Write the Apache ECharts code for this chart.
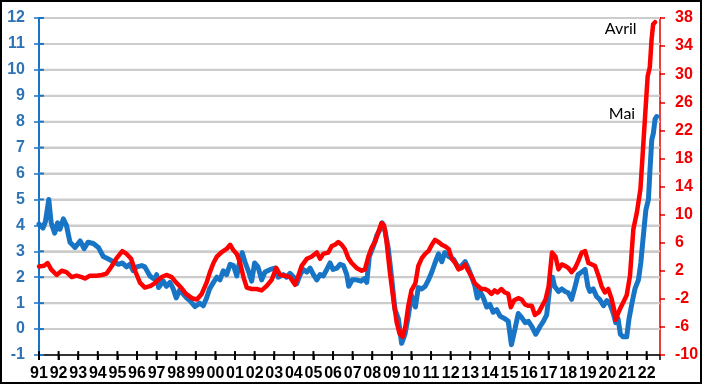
<!DOCTYPE html>
<html>
<head>
<meta charset="utf-8">
<style>html,body{margin:0;padding:0;background:#fff}#c{width:702px;height:384px}</style>
<script src="https://cdn.jsdelivr.net/npm/echarts@6/dist/echarts.min.js"></script>
</head>
<body>
<div id="c"></div>
<script>
// Blue series (left axis), time in fractional years
const blueTime = [1991.00,1991.20,1991.33,1991.50,1991.62,1991.80,1991.95,1992.07,1992.24,1992.40,1992.58,1992.84,1993.10,1993.30,1993.50,1993.77,1994.03,1994.28,1994.54,1994.80,1995.05,1995.25,1995.47,1995.64,1995.81,1995.98,1996.24,1996.40,1996.66,1996.92,1997.00,1997.10,1997.34,1997.50,1997.68,1997.85,1998.00,1998.17,1998.36,1998.53,1998.70,1998.96,1999.20,1999.38,1999.55,1999.70,1999.90,2000.07,2000.23,2000.40,2000.57,2000.75,2000.92,2001.09,2001.26,2001.37,2001.50,2001.70,2001.85,2002.00,2002.17,2002.36,2002.53,2002.80,2003.04,2003.20,2003.46,2003.63,2003.80,2004.00,2004.15,2004.32,2004.48,2004.66,2004.83,2005.00,2005.17,2005.34,2005.50,2005.68,2005.85,2006.00,2006.20,2006.36,2006.53,2006.70,2006.80,2006.98,2007.20,2007.43,2007.60,2007.72,2007.85,2008.06,2008.23,2008.40,2008.51,2008.65,2008.82,2009.00,2009.16,2009.33,2009.50,2009.67,2009.84,2010.00,2010.20,2010.35,2010.53,2010.70,2010.87,2011.04,2011.20,2011.38,2011.55,2011.70,2011.90,2012.14,2012.40,2012.57,2012.74,2012.90,2013.08,2013.24,2013.36,2013.50,2013.67,2013.84,2014.00,2014.17,2014.35,2014.52,2014.77,2014.94,2015.10,2015.28,2015.45,2015.62,2015.80,2015.97,2016.14,2016.34,2016.56,2016.73,2016.90,2017.07,2017.20,2017.30,2017.50,2017.67,2017.84,2018.00,2018.17,2018.35,2018.50,2018.69,2018.86,2019.00,2019.10,2019.27,2019.45,2019.60,2019.80,2019.97,2020.13,2020.30,2020.42,2020.54,2020.66,2020.80,2020.98,2021.10,2021.25,2021.40,2021.58,2021.70,2021.83,2021.96,2022.09,2022.17,2022.26,2022.34,2022.43,2022.51];
const blueValues = [4.05,3.90,4.15,5.00,4.10,3.70,4.10,3.85,4.25,4.00,3.35,3.15,3.40,3.10,3.35,3.30,3.15,2.80,2.70,2.60,2.50,2.55,2.40,2.50,2.25,2.40,2.45,2.40,2.05,1.90,2.10,1.60,1.85,1.65,1.80,1.55,1.20,1.50,1.35,1.20,1.10,0.87,1.00,0.90,1.20,1.55,1.80,2.00,1.90,2.25,2.10,2.50,2.45,2.05,2.70,2.95,2.60,2.20,1.85,2.55,2.40,1.90,2.20,2.30,2.35,2.00,2.10,2.00,2.15,2.00,1.75,2.10,2.30,2.20,2.35,2.10,1.90,2.10,2.05,2.30,2.55,2.30,2.35,2.50,2.45,2.10,1.65,1.90,1.90,1.85,1.95,1.80,2.80,3.20,3.60,3.85,4.10,3.80,3.10,1.90,0.75,0.40,-0.55,-0.20,0.50,1.30,0.85,1.60,1.55,1.65,1.90,2.20,2.55,2.90,2.60,2.95,2.80,2.70,2.35,2.45,2.60,2.35,2.00,1.65,1.20,1.45,1.20,0.85,0.95,0.65,0.75,0.50,0.40,0.30,-0.60,0.00,0.60,0.45,0.25,0.30,0.10,-0.20,0.10,0.30,0.55,1.70,2.00,1.65,1.45,1.55,1.45,1.40,1.15,1.65,2.10,2.20,2.30,1.65,1.45,1.55,1.25,1.15,0.90,1.10,0.95,0.60,0.25,0.40,-0.20,-0.30,-0.30,0.40,1.00,1.55,1.90,2.55,3.60,4.60,5.00,6.15,7.30,7.55,8.10,8.20];

// Red series (right axis)
const redTime = [1991.00,1991.26,1991.44,1991.62,1991.90,1992.16,1992.40,1992.67,1992.92,1993.18,1993.35,1993.60,1993.94,1994.20,1994.45,1994.70,1994.96,1995.25,1995.47,1995.70,1995.90,1996.15,1996.40,1996.66,1996.90,1997.00,1997.26,1997.50,1997.77,1998.00,1998.25,1998.50,1998.80,1999.05,1999.30,1999.55,1999.72,1999.90,2000.07,2000.30,2000.57,2000.75,2000.90,2001.09,2001.26,2001.43,2001.60,2001.85,2002.10,2002.36,2002.60,2002.87,2003.10,2003.30,2003.55,2003.80,2004.06,2004.23,2004.40,2004.66,2004.90,2005.17,2005.34,2005.50,2005.76,2005.93,2006.10,2006.27,2006.44,2006.60,2006.78,2006.95,2007.20,2007.46,2007.63,2007.80,2007.97,2008.14,2008.30,2008.47,2008.60,2008.72,2008.90,2009.08,2009.25,2009.40,2009.55,2009.70,2009.84,2010.00,2010.20,2010.35,2010.53,2010.70,2010.87,2011.04,2011.20,2011.38,2011.55,2011.70,2011.90,2012.06,2012.24,2012.40,2012.57,2012.74,2012.90,2013.08,2013.24,2013.40,2013.56,2013.75,2013.90,2014.08,2014.24,2014.40,2014.58,2014.77,2014.94,2015.07,2015.24,2015.45,2015.62,2015.80,2015.97,2016.14,2016.30,2016.50,2016.67,2016.84,2017.00,2017.17,2017.35,2017.50,2017.67,2017.84,2018.00,2018.17,2018.35,2018.50,2018.69,2018.86,2019.03,2019.20,2019.36,2019.54,2019.70,2019.87,2020.04,2020.20,2020.33,2020.42,2020.55,2020.68,2020.82,2020.98,2021.15,2021.32,2021.50,2021.68,2021.81,2021.94,2022.05,2022.16,2022.25,2022.33,2022.43];
const redValues = [2.6,2.7,3.1,2.2,1.4,2.0,1.8,1.1,1.3,1.1,0.9,1.3,1.3,1.4,1.6,2.6,3.8,4.8,4.4,3.7,2.0,0.3,-0.4,-0.2,0.2,0.5,1.1,1.4,1.1,0.3,-0.4,-1.3,-1.9,-2.1,-1.3,0.3,1.8,3.1,4.0,4.6,5.1,5.7,5.0,4.4,3.1,1.1,-0.4,-0.6,-0.6,-0.8,-0.2,0.7,2.4,1.4,1.3,1.1,0.0,1.3,2.7,3.7,4.0,4.6,3.7,4.4,4.6,5.5,5.7,6.1,5.7,5.1,3.8,3.1,2.4,2.0,2.2,4.0,5.3,6.1,7.4,8.8,8.5,6.4,1.8,-2.1,-5.4,-7.0,-7.4,-5.8,-3.0,-0.8,0.2,2.7,3.8,4.4,4.8,5.7,6.4,6.1,5.7,5.5,5.1,3.7,3.1,2.2,2.4,2.9,2.0,1.1,0.2,-0.2,-0.6,-0.6,-0.8,-1.3,-0.8,-1.1,-0.6,-1.1,-1.3,-3.2,-2.2,-1.9,-2.1,-2.8,-3.0,-3.0,-4.3,-3.9,-3.0,-2.1,-0.2,4.6,4.0,2.2,2.9,2.7,2.4,1.8,2.4,3.3,4.6,4.8,3.1,2.9,2.7,1.3,-0.2,-1.1,-0.6,-1.9,-3.4,-5.0,-4.0,-3.2,-2.4,-1.5,1.3,7.9,10.3,13.6,19.2,24.9,29.7,31.0,34.9,37.1,37.4];

// Tick values
const leftTicks = [-1,0,1,2,3,4,5,6,7,8,9,10,11,12];
const rightTicks = [-10,-6,-2,2,6,10,14,18,22,26,30,34,38];
const yearTicks = [1991,1992,1993,1994,1995,1996,1997,1998,1999,2000,2001,2002,2003,2004,2005,2006,2007,2008,2009,2010,2011,2012,2013,2014,2015,2016,2017,2018,2019,2020,2021,2022];
const xRange = [1991, 2022.68];
const endLabels = ['Avril', 'Mai'];

const BLUE = '#1874C4', BLUE_TXT = '#2E74B5', RED = '#FF0000', RED_AX = '#E00000';
const FONT = 'Liberation Sans, Arial, sans-serif';

const blueData = blueTime.map((t, i) => [t, blueValues[i]]);
const redData = redTime.map((t, i) => [t, redValues[i]]);

// tick half-lengths expressed in axis units (about 5px)
const TX = 0.25, TY = 0.19;

const helper = (data, color, yAxisIndex, width, z) => ({
  type: 'line', data, yAxisIndex, symbol: 'none', silent: true, clip: false, z,
  lineStyle: {color, width, cap: 'butt'}, emphasis: {disabled: true}, tooltip: {show: false}
});

const gridSeries = leftTicks.slice(1).map(v => helper([[xRange[0], v], [xRange[1], v]], '#CCCCCC', 0, 2, 1));
const leftTickSeries = leftTicks.map(v => helper([[xRange[0] - TX, v], [xRange[0] + TX, v]], BLUE, 0, 2, 2));
const xTickSeries = yearTicks.map(t => helper([[t, leftTicks[0] - TY], [t, leftTicks[0] + 0.8 * TY]], '#000', 0, 2, 2));
const rightTickSeries = rightTicks.map(r => helper([[xRange[1], r], [xRange[1] + TX, r]], RED_AX, 1, 2, 2));

const chart = echarts.init(document.getElementById('c'), null, {renderer: 'canvas'});
const yearFmt = v => Math.abs(v - Math.round(v)) < 1e-6 ? String(Math.round(v)).slice(2) : '';

chart.setOption({
  animation: false,
  backgroundColor: '#fff',
  grid: {left: 39, right: 42, top: 18, bottom: 29},
  graphic: [{
    type: 'rect', silent: true, z: 100,
    shape: {x: 1, y: 1, width: 700, height: 382},
    style: {fill: 'none', stroke: '#000', lineWidth: 2}
  }],
  xAxis: {
    type: 'value', position: 'bottom', min: xRange[0], max: xRange[1], interval: 1,
    axisLine: {show: true, onZero: false, lineStyle: {color: '#000', width: 1.5}},
    axisTick: {show: true, length: 5, lineStyle: {color: '#000', width: 1.5}},
    axisLabel: {show: true, margin: 11, color: '#000', fontSize: 16, fontWeight: 'bold', fontFamily: FONT, formatter: yearFmt},
    splitLine: {show: false}
  },
  yAxis: [
    {
      type: 'value', position: 'left', min: leftTicks[0], max: leftTicks[leftTicks.length - 1], interval: 1,
      axisLine: {show: true, onZero: false, lineStyle: {color: BLUE, width: 2}},
      axisTick: {show: true, length: 5, lineStyle: {color: BLUE, width: 1.5}},
      axisLabel: {margin: 14, color: BLUE_TXT, fontSize: 16, fontWeight: 'bold', fontFamily: FONT},
      splitLine: {show: true, lineStyle: {color: '#CCCCCC', width: 2}}
    },
    {
      type: 'value', position: 'right', min: rightTicks[0], max: rightTicks[rightTicks.length - 1], interval: 4,
      axisLine: {show: true, onZero: false, lineStyle: {color: RED_AX, width: 1.5}},
      axisTick: {show: true, length: 5, lineStyle: {color: RED_AX, width: 1.5}},
      axisLabel: {margin: 15, color: '#F00000', fontSize: 16, fontWeight: 'bold', fontFamily: FONT},
      splitLine: {show: false}
    }
  ],
  series: [
    ...gridSeries,
    ...leftTickSeries,
    ...xTickSeries,
    ...rightTickSeries,
    {
      type: 'line', yAxisIndex: 0, data: blueData, symbol: 'none', z: 3,
      lineStyle: {color: BLUE, width: 5, join: 'round', cap: 'round'},
      markPoint: {
        symbol: 'circle', symbolSize: 1, itemStyle: {color: 'rgba(0,0,0,0)'},
        label: {show: true, formatter: endLabels[1], position: 'left', distance: 21, offset: [0, -3], color: '#000', fontSize: 16, fontFamily: 'Lato, sans-serif'},
        data: [{coord: blueData[blueData.length - 1]}]
      }
    },
    {
      type: 'line', yAxisIndex: 1, data: redData, symbol: 'none', z: 4,
      lineStyle: {color: RED, width: 4.5, join: 'round', cap: 'round'},
      markPoint: {
        symbol: 'circle', symbolSize: 1, itemStyle: {color: 'rgba(0,0,0,0)'},
        label: {show: true, formatter: endLabels[0], position: 'left', distance: 18, offset: [0, 7], color: '#000', fontSize: 16, fontFamily: 'Lato, sans-serif'},
        data: [{coord: redData[redData.length - 1]}]
      }
    }
  ]
});
</script>
</body>
</html>
